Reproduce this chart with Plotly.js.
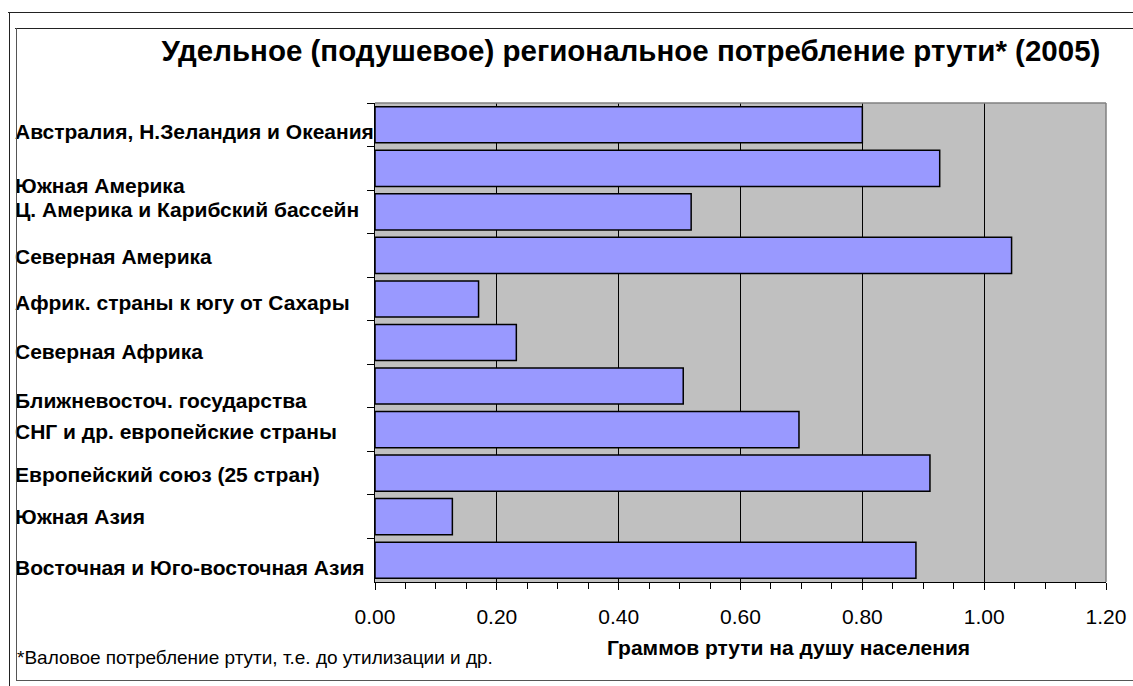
<!DOCTYPE html>
<html>
<head>
<meta charset="utf-8">
<script src="https://cdn.plot.ly/plotly-3.0.1.min.js"></script>
<style>
  html, body { margin: 0; padding: 0; background: #fff; }
  #wrap { position: relative; width: 1133px; height: 686px; overflow: hidden; }
  #chart { position: absolute; left: 0; top: 0; width: 1133px; height: 686px; }
  .ln { position: absolute; pointer-events: none; background: #222; }
</style>
</head>
<body>
<div id="wrap">
  <div id="chart"></div>
  <div class="ln" style="left:8px; top:12px; width:1125px; height:1px;"></div>
  <div class="ln" style="left:9px; top:12px; width:1px; height:674px;"></div>
  <div class="ln" style="left:15px; top:28px; width:1118px; height:1px;"></div>
  <div class="ln" style="left:16px; top:28px; width:1px; height:653px; background:#555;"></div>
  <div class="ln" style="left:16px; top:680px; width:1117px; height:1px; background:#555;"></div>
</div>
<script>
// ---- data ----
const categories = [
  'Австралия, Н.Зеландия и Океания',
  'Южная Америка',
  'Ц. Америка и Карибский бассейн',
  'Северная Америка',
  'Африк. страны к югу от Сахары',
  'Северная Африка',
  'Ближневосточ. государства',
  'СНГ и др. европейские страны',
  'Европейский союз (25 стран)',
  'Южная Азия',
  'Восточная и Юго-восточная Азия'
];
const values = [0.800, 0.927, 0.519, 1.045, 0.170, 0.232, 0.506, 0.696, 0.911, 0.127, 0.888];
const tickValues = [0, 0.2, 0.4, 0.6, 0.8, 1.0, 1.2];
const titleText = 'Удельное (подушевое) региональное потребление ртути* (2005)';
const xTitleText = 'Граммов ртути на душу населения';
const footnoteText = '*Валовое потребление ртути, т.е. до утилизации и др.';

// ---- style ----
const W = 1133, H = 686;
const M = {l: 375, r: 27, t: 103, b: 104};
const PW = W - M.l - M.r, PH = H - M.t - M.b;
const px2x = p => (p - M.l) / PW;
const py2y = p => 1 - (p - M.t) / PH;
const labelShift = [-7, -17, 2, -1, -4, -9, -14, -2, -1, 0, -7];
const FONT = 'Liberation Sans, Arial, sans-serif';

const trace = {
  type: 'bar',
  orientation: 'h',
  x: values,
  y: categories,
  marker: {color: '#9999FF', line: {color: '#000000', width: 1.5}},
  hoverinfo: 'x+y'
};

const annotations = categories.map((c, i) => ({
  xref: 'paper', yref: 'y',
  x: px2x(13), y: c,
  xanchor: 'left', yanchor: 'middle',
  yshift: labelShift[i],
  text: c, showarrow: false,
  font: {family: FONT, size: 21, color: '#000', weight: 'bold'}
}));
annotations.push({
  xref: 'paper', yref: 'paper',
  x: px2x(788), y: py2y(647),
  xanchor: 'center', yanchor: 'middle',
  text: xTitleText, showarrow: false,
  font: {family: FONT, size: 21, color: '#000', weight: 'bold'}
});
annotations.push({
  xref: 'paper', yref: 'paper',
  x: px2x(15), y: py2y(657),
  xanchor: 'left', yanchor: 'middle',
  text: footnoteText, showarrow: false,
  font: {family: FONT, size: 19, color: '#000'}
});

const layout = {
  width: W, height: H,
  margin: M,
  paper_bgcolor: '#ffffff',
  plot_bgcolor: '#C0C0C0',
  showlegend: false,
  bargap: 0.17,
  title: {
    text: titleText,
    xref: 'paper', x: px2x(631), xanchor: 'center',
    yref: 'container', y: 1 - 51 / H, yanchor: 'middle',
    font: {family: FONT, size: 29.5, color: '#000', weight: 'bold'}
  },
  xaxis: {
    range: [0, 1.2],
    tickvals: tickValues,
    tickformat: '.2f',
    showgrid: true, gridcolor: '#000', gridwidth: 1,
    zeroline: false,
    showline: true, linecolor: '#000', linewidth: 1,
    ticks: 'outside', ticklen: 7, tickcolor: '#000', tickwidth: 1,
    ticklabelstandoff: 9,
    minor: {dtick: 0.05, ticks: 'outside', ticklen: 6, tickcolor: '#000', tickwidth: 1, showgrid: false},
    tickfont: {family: FONT, size: 21, color: '#000'},
    fixedrange: true
  },
  yaxis: {
    type: 'category',
    range: [categories.length - 0.5, -0.5],
    showgrid: false, zeroline: false,
    showline: true, linecolor: '#000', linewidth: 1,
    ticks: 'outside', tickson: 'boundaries', ticklen: 7, tickcolor: '#000',
    showticklabels: false,
    fixedrange: true
  },
  shapes: [
    {type: 'line', xref: 'paper', yref: 'paper', x0: 0, x1: 1, y0: 1, y1: 1, line: {color: '#808080', width: 1.5}, layer: 'above'},
    {type: 'line', xref: 'paper', yref: 'paper', x0: 1, x1: 1, y0: 0, y1: 1, line: {color: '#808080', width: 1.5}, layer: 'above'}
  ],
  annotations: annotations
};

Plotly.newPlot('chart', [trace], layout, {displayModeBar: false, staticPlot: true});
</script>
</body>
</html>
